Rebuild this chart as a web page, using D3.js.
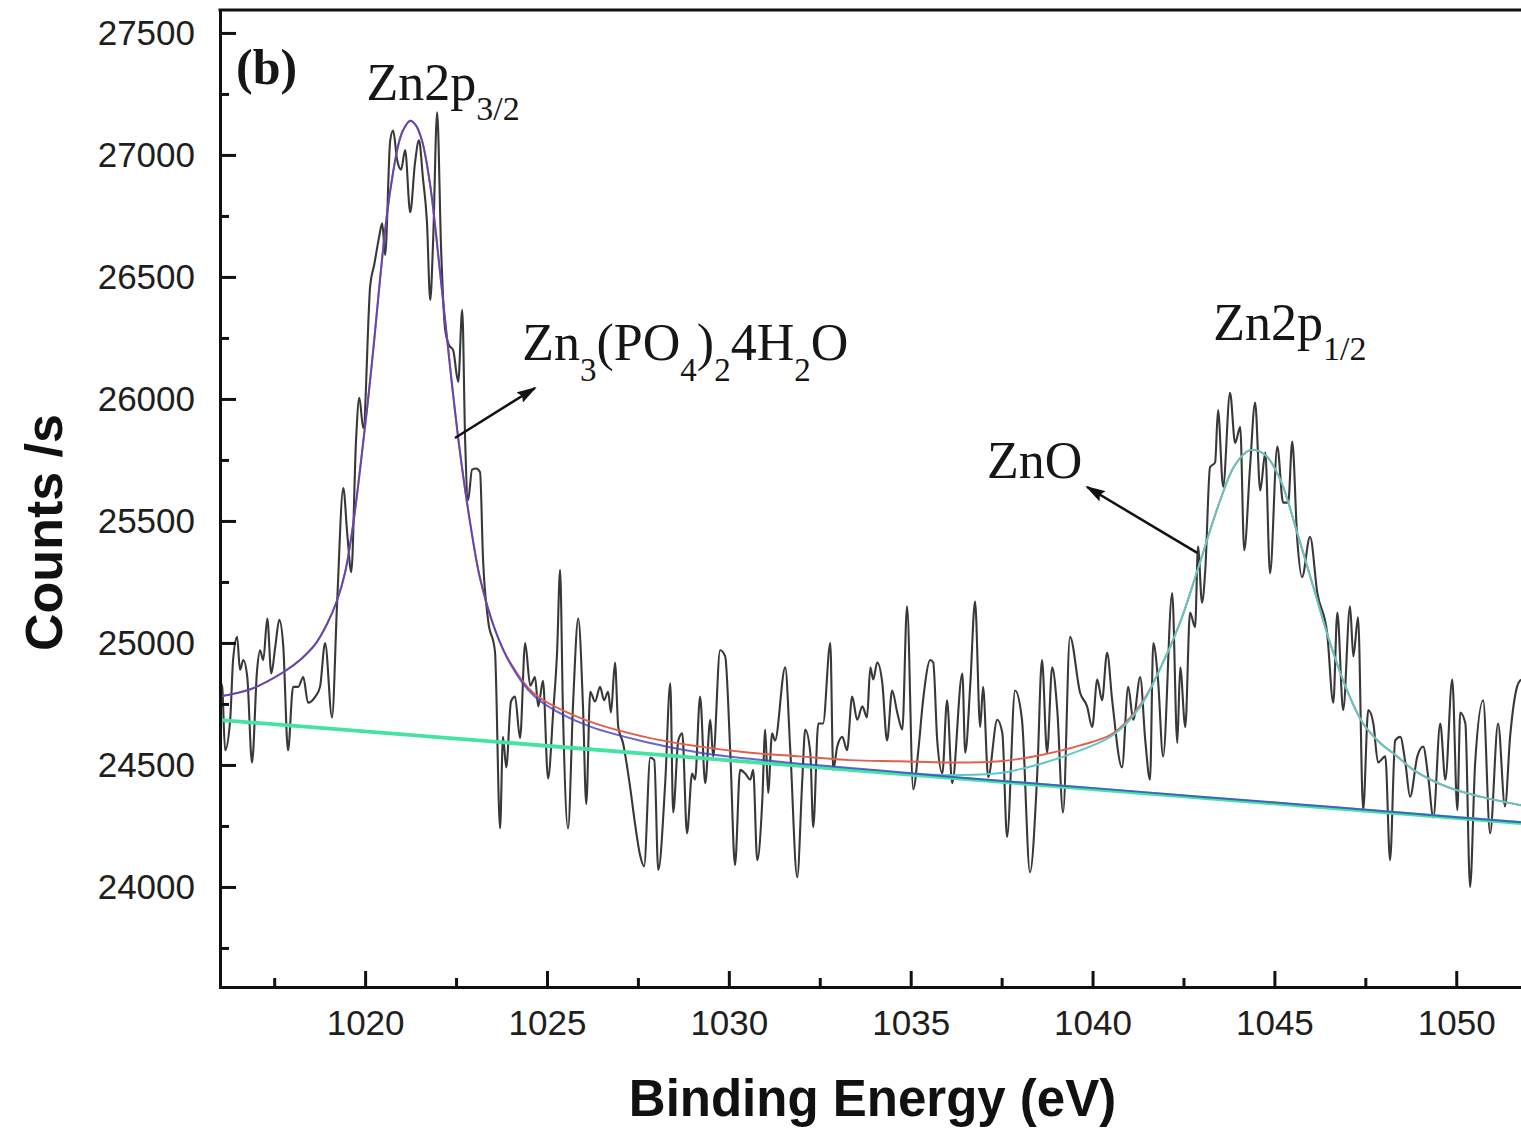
<!DOCTYPE html>
<html><head><meta charset="utf-8">
<script src="https://cdn.jsdelivr.net/npm/d3@7"></script>
<style>html,body{margin:0;padding:0;background:#fff;} svg{display:block;}</style>
</head><body>
<svg id="chart" width="1521" height="1134"></svg>
<script>
// ---------- data ----------
const rawEnergy = [
1015.99,1016.07,1016.15,1016.29,1016.37,1016.48,1016.56,1016.65,1016.76,1016.89,
1017.03,1017.11,1017.20,1017.31,1017.42,1017.53,1017.64,1017.75,1017.88,1018.02,
1018.16,1018.30,1018.43,1018.63,1018.76,1018.90,1019.09,1019.23,1019.40,1019.51,
1019.62,1019.75,1019.84,1019.95,1020.14,1020.25,1020.38,1020.47,1020.55,1020.69,
1020.77,1020.88,1020.99,1021.10,1021.24,1021.37,1021.48,1021.59,1021.70,1021.79,
1021.87,1021.98,1022.09,1022.20,1022.31,1022.42,1022.56,1022.67,1022.75,1022.83,
1022.94,1023.05,1023.16,1023.24,1023.38,1023.57,1023.71,1023.79,1023.88,1024.01,
1024.12,1024.26,1024.40,1024.54,1024.67,1024.76,1024.89,1025.03,1025.17,1025.28,
1025.36,1025.44,1025.58,1025.72,1025.86,1025.99,1026.08,1026.19,1026.32,1026.46,
1026.57,1026.68,1026.76,1026.87,1026.96,1027.09,1027.29,1027.42,1027.56,1027.67,
1027.84,1027.95,1028.06,1028.25,1028.39,1028.47,1028.61,1028.72,1028.85,1028.99,
1029.07,1029.21,1029.35,1029.49,1029.57,1029.76,1029.90,1030.04,1030.17,1030.31,
1030.45,1030.59,1030.67,1030.78,1030.92,1031.00,1031.08,1031.19,1031.27,1031.55,
1031.69,1031.88,1032.02,1032.10,1032.24,1032.32,1032.46,1032.59,1032.79,1032.87,
1032.98,1033.12,1033.25,1033.39,1033.53,1033.67,1033.80,1033.89,1033.97,1034.08,
1034.22,1034.35,1034.49,1034.63,1034.77,1034.90,1035.07,1035.21,1035.34,1035.54,
1035.62,1035.73,1035.87,1036.00,1036.14,1036.42,1036.50,1036.64,1036.77,1036.91,
1036.99,1037.13,1037.38,1037.52,1037.65,1037.87,1038.06,1038.28,1038.48,1038.61,
1038.75,1038.89,1039.03,1039.19,1039.38,1039.66,1039.85,1039.99,1040.13,1040.26,
1040.40,1040.54,1040.81,1040.98,1041.12,1041.31,1041.45,1041.58,1041.67,1041.80,
1041.94,1042.19,1042.33,1042.41,1042.55,1042.68,1042.82,1042.90,1043.01,1043.10,
1043.23,1043.37,1043.45,1043.59,1043.78,1043.92,1044.06,1044.17,1044.33,1044.47,
1044.61,1044.75,1044.88,1045.08,1045.24,1045.38,1045.49,1045.63,1045.76,1045.98,
1046.18,1046.45,1046.62,1046.73,1046.89,1047.08,1047.17,1047.30,1047.44,1047.58,
1047.72,1047.85,1048.05,1048.18,1048.32,1048.46,1048.60,1048.73,1048.93,1049.09,
1049.23,1049.37,1049.56,1049.70,1049.89,1050.03,1050.11,1050.25,1050.38,1050.52,
1050.74,1050.93,1051.15,1051.34,1051.48,1051.67,1051.78
];
const rawCounts = [
24850,24820,24560,24685,24930,25025,24890,24930,24860,24510,
24890,24970,24930,25100,24875,24985,25095,24985,24560,24820,
24820,24860,24755,24780,24820,25000,24695,25165,25635,25445,
25290,25830,26005,25880,26465,26550,26660,26720,26590,27060,
27100,26980,26940,27020,26765,26965,27060,26905,26725,26405,
26650,27175,26610,26285,26220,26200,26070,26365,25830,25585,
25710,25715,25700,25350,25095,24965,24240,24615,24490,24760,
24780,24610,25000,24825,24860,24740,24845,24445,24715,24970,
25300,24715,24240,24760,25100,24740,24340,24800,24760,24820,
24765,24800,24715,24920,24655,24590,24405,24260,24130,24085,
24530,24520,24070,24425,24835,24305,24600,24630,24220,24465,
24440,24780,24425,24685,24535,24970,24945,24550,24090,24480,
24465,24440,24480,24110,24355,24645,24385,24630,24600,24900,
24560,24040,24440,24645,24550,24245,24670,24670,25000,24480,
24575,24615,24560,24780,24685,24740,24695,24900,24850,24920,
24835,24600,24805,24715,24645,25150,24400,24560,24765,24930,
24920,24600,24465,24765,24425,24875,24550,24835,25170,24655,
24820,24450,24685,24630,24205,24805,24685,24060,24465,24930,
24550,24900,24725,24305,25025,24795,24740,24655,24850,24765,
24960,24765,24490,24820,24685,24860,24600,24440,25000,24850,
24535,25205,24590,24900,24655,25125,25065,25395,25165,25300,
25720,25740,25955,25640,26025,25820,25885,25380,25720,25985,
25625,25780,25285,25805,25575,25575,25825,25420,25270,25435,
25205,25040,24755,25125,24725,25150,24945,25105,24315,24725,
24670,24510,24535,24110,24600,24615,24510,24370,24535,24575,
24450,24285,24670,24440,24850,24315,24715,24670,24000,24510,
24765,24220,24670,24330,24615,24820,24850
];

// cumulative fit envelope (red)
const envEnergy = [1015.96,1016.84,1017.75,1018.21,1018.63,1018.96,1019.23,1019.45,1019.67,1019.86,
1020.05,1020.25,1020.41,1020.60,1020.77,1020.91,1021.04,1021.24,1021.40,1021.57,
1021.79,1022.06,1022.34,1022.61,1022.89,1023.16,1023.57,1023.99,1024.67,1026.05,
1027.84,1029.21,1030.59,1031.96,1033.34,1034.71,1036.08,1037.46,1038.56,1039.66,
1040.57,1041.31,1041.86,1042.41,1042.90,1043.51,1043.92,1044.33,1044.75,1045.16,
1045.63,1046.07,1046.53,1047.00,1047.44,1047.91,1048.38,1048.82,1049.75,1050.66,
1051.78];
const envCounts = [24780,24810,24880,24930,24995,25080,25175,25290,25485,25710,
25955,26240,26490,26755,26930,27040,27100,27140,27120,27055,
26875,26520,26125,25780,25490,25265,25055,24920,24790,24685,
24610,24575,24550,24535,24520,24515,24510,24515,24540,24580,
24630,24745,24895,25085,25305,25585,25730,25790,25770,25670,
25450,25230,25000,24805,24670,24590,24535,24480,24410,24370,
24335];

// Zn3(PO4)2·4H2O component (blue)
const phosEnergy = [1015.96,1016.84,1017.75,1018.21,1018.63,1018.96,1019.23,1019.45,1019.67,1019.86,
1020.05,1020.25,1020.41,1020.60,1020.77,1020.91,1021.04,1021.24,1021.40,1021.57,
1021.79,1022.06,1022.34,1022.61,1022.89,1023.16,1023.57,1023.99,1024.67,1026.05,
1027.84,1029.21,1030.59,1031.96,1033.34,1034.71,1036.08,1037.46,1040.21,1042.96,
1045.71,1048.46,1051.78];
const phosCounts = [24780,24810,24880,24930,24995,25080,25175,25290,25485,25710,
25955,26240,26490,26755,26930,27040,27100,27140,27120,27055,
26875,26520,26125,25780,25490,25265,25055,24915,24780,24665,
24590,24550,24525,24505,24488,24470,24452,24435,24403,24370,
24338,24305,24265];

// ZnO component (cyan)
const znoEnergy = [1034.71,1036.08,1037.46,1038.56,1039.66,1040.57,1041.31,1041.86,1042.41,1042.90,
1043.51,1043.92,1044.33,1044.75,1045.16,1045.63,1046.07,1046.53,1047.00,1047.44,
1047.91,1048.38,1048.82,1049.75,1050.66,1051.78];
const znoCounts = [24467,24459,24467,24504,24560,24623,24738,24895,25085,25305,
25585,25730,25790,25770,25670,25450,25230,25000,24805,24670,
24590,24535,24480,24410,24370,24335];

// background (green)
const baseEnergy = [1015.96, 1034.00, 1051.78];
const baseCounts = [24685, 24472, 24262];

const xMajorTicks = [1020, 1025, 1030, 1035, 1040, 1045, 1050];
const xMinorTicks = [1017.5, 1022.5, 1027.5, 1032.5, 1037.5, 1042.5, 1047.5];
const yMajorTicks = [24000, 24500, 25000, 25500, 26000, 26500, 27000, 27500];
const yMinorTicks = [23750, 24250, 24750, 25250, 25750, 26250, 26750, 27250];

// ---------- drawing ----------
const svg = d3.select("#chart");
const x = d3.scaleLinear().domain([1016.01, 1051.78]).range([220, 1521]);
const y = d3.scaleLinear().domain([23590, 27594]).range([987, 10]);
const [x0, x1] = x.range();
const [y0, y1] = y.range();

const defs = svg.append("defs");
defs.append("clipPath").attr("id", "plotClip").append("rect")
  .attr("x", x0 + 1.5).attr("y", y1 + 1.5).attr("width", x1 - x0).attr("height", y0 - y1 - 3);
defs.append("marker").attr("id", "arrow").attr("markerUnits", "userSpaceOnUse")
  .attr("markerWidth", 20).attr("markerHeight", 12).attr("refX", 18).attr("refY", 6)
  .attr("orient", "auto")
  .append("path").attr("d", "M0,0 L20,6 L0,12 L3,6 Z").attr("fill", "#111");

const plot = svg.append("g").attr("clip-path", "url(#plotClip)");
const rawLine = d3.line().curve(d3.curveMonotoneX).x(d => x(d[0])).y(d => y(d[1]));
const straight = d3.line().x(d => x(d[0])).y(d => y(d[1]));
const smooth = d3.line().curve(d3.curveCatmullRom.alpha(0.5)).x(d => x(d[0])).y(d => y(d[1]));

plot.append("path").datum(d3.zip(rawEnergy, rawCounts))
  .attr("d", rawLine).attr("fill", "none").attr("stroke", "#383838")
  .attr("stroke-width", 2.1).attr("stroke-linejoin", "round");

plot.append("path").datum(d3.zip(baseEnergy, baseCounts))
  .attr("d", straight).attr("fill", "none").attr("stroke", "#44e3a4").attr("stroke-width", 3.8);

plot.append("path").datum(d3.zip(envEnergy, envCounts))
  .attr("d", smooth).attr("fill", "none").attr("stroke", "#e0604c").attr("stroke-width", 1.9);

plot.append("path").datum(d3.zip(znoEnergy, znoCounts))
  .attr("d", smooth).attr("fill", "none").attr("stroke", "#5cc9c9").attr("stroke-width", 1.9);

plot.append("path").datum(d3.zip(phosEnergy, phosCounts))
  .attr("d", smooth).attr("fill", "none").attr("stroke", "#4040c8").attr("stroke-width", 2)
  .attr("stroke-opacity", 0.8);

// axes
const tickFont = "Liberation Sans, Arial, sans-serif";
function styleAxis(g) {
  g.selectAll("path.domain").attr("stroke", "#111").attr("stroke-width", 3).attr("stroke-linecap", "square");
  g.selectAll(".tick line").attr("stroke", "#111").attr("stroke-width", 3);
  g.selectAll(".tick text").attr("font-family", tickFont).attr("font-size", 35).attr("fill", "#1e1e1e");
}
const gxMinor = svg.append("g").attr("transform", `translate(0,${y0})`)
  .call(d3.axisBottom(x).tickValues(xMinorTicks).tickSizeInner(-9).tickSizeOuter(0).tickFormat(() => ""));
gxMinor.select("path.domain").remove(); styleAxis(gxMinor);
const gyMinor = svg.append("g").attr("transform", `translate(${x0},0)`)
  .call(d3.axisLeft(y).tickValues(yMinorTicks).tickSizeInner(-9).tickSizeOuter(0).tickFormat(() => ""));
gyMinor.select("path.domain").remove(); styleAxis(gyMinor);

const gx = svg.append("g").attr("transform", `translate(0,${y0})`)
  .call(d3.axisBottom(x).tickValues(xMajorTicks).tickSizeInner(-16).tickSizeOuter(0).tickPadding(23).tickFormat(d3.format("d")));
styleAxis(gx);
const gy = svg.append("g").attr("transform", `translate(${x0},0)`)
  .call(d3.axisLeft(y).tickValues(yMajorTicks).tickSizeInner(-16).tickSizeOuter(0).tickPadding(25).tickFormat(d3.format("d")));
styleAxis(gy);

svg.append("line").attr("x1", x0).attr("x2", x1 + 5).attr("y1", y1).attr("y2", y1)
  .attr("stroke", "#111").attr("stroke-width", 3).attr("stroke-linecap", "square");

// axis titles
svg.append("text").attr("transform", `translate(62,${(y0 + y1) / 2 + 34}) rotate(-90)`)
  .attr("text-anchor", "middle").attr("font-family", tickFont).attr("font-weight", "bold")
  .attr("font-size", 52).attr("fill", "#111").text("Counts /s");
svg.append("text").attr("x", (x0 + x1) / 2 + 2).attr("y", 1116)
  .attr("text-anchor", "middle").attr("font-family", tickFont).attr("font-weight", "bold")
  .attr("font-size", 51).attr("fill", "#111").text("Binding Energy (eV)");

// annotations (positions in data units)
const serif = "Liberation Serif, Times New Roman, serif";
function richText(e, c, parts, size, subSize, subShift, bold) {
  const t = svg.append("text").attr("x", x(e)).attr("y", y(c))
    .attr("font-family", serif).attr("font-size", size).attr("fill", "#161616")
    .attr("font-weight", bold ? "bold" : "normal");
  let cur = 0;
  parts.forEach(p => {
    const shift = p.sub ? subShift : 0;
    t.append("tspan").attr("dy", shift - cur).attr("font-size", p.sub ? subSize : size).text(p.t);
    cur = shift;
  });
}
richText(1016.45, 27290, [{t: "(b)"}], 50, 50, 0, true);
richText(1020.04, 27225, [{t: "Zn2p"}, {t: "3/2", sub: true}], 52, 34, 20);
richText(1024.32, 26160, [{t: "Zn"}, {t: "3", sub: true}, {t: "(PO"}, {t: "4", sub: true}, {t: ")"}, {t: "2", sub: true}, {t: "4H"}, {t: "2", sub: true}, {t: "O"}], 52, 33, 21);
richText(1043.32, 26242, [{t: "Zn2p"}, {t: "1/2", sub: true}], 52, 34, 20);
richText(1037.10, 25676, [{t: "ZnO"}], 52, 30, 20);

const arrows = [
  {from: [1022.47, 25840], to: [1024.67, 26045]},
  {from: [1042.88, 25369], to: [1039.85, 25639]}
];
arrows.forEach(a => {
  svg.append("line").attr("x1", x(a.from[0])).attr("y1", y(a.from[1]))
    .attr("x2", x(a.to[0])).attr("y2", y(a.to[1]))
    .attr("stroke", "#111").attr("stroke-width", 2.5).attr("marker-end", "url(#arrow)");
});
</script>
</body></html>
